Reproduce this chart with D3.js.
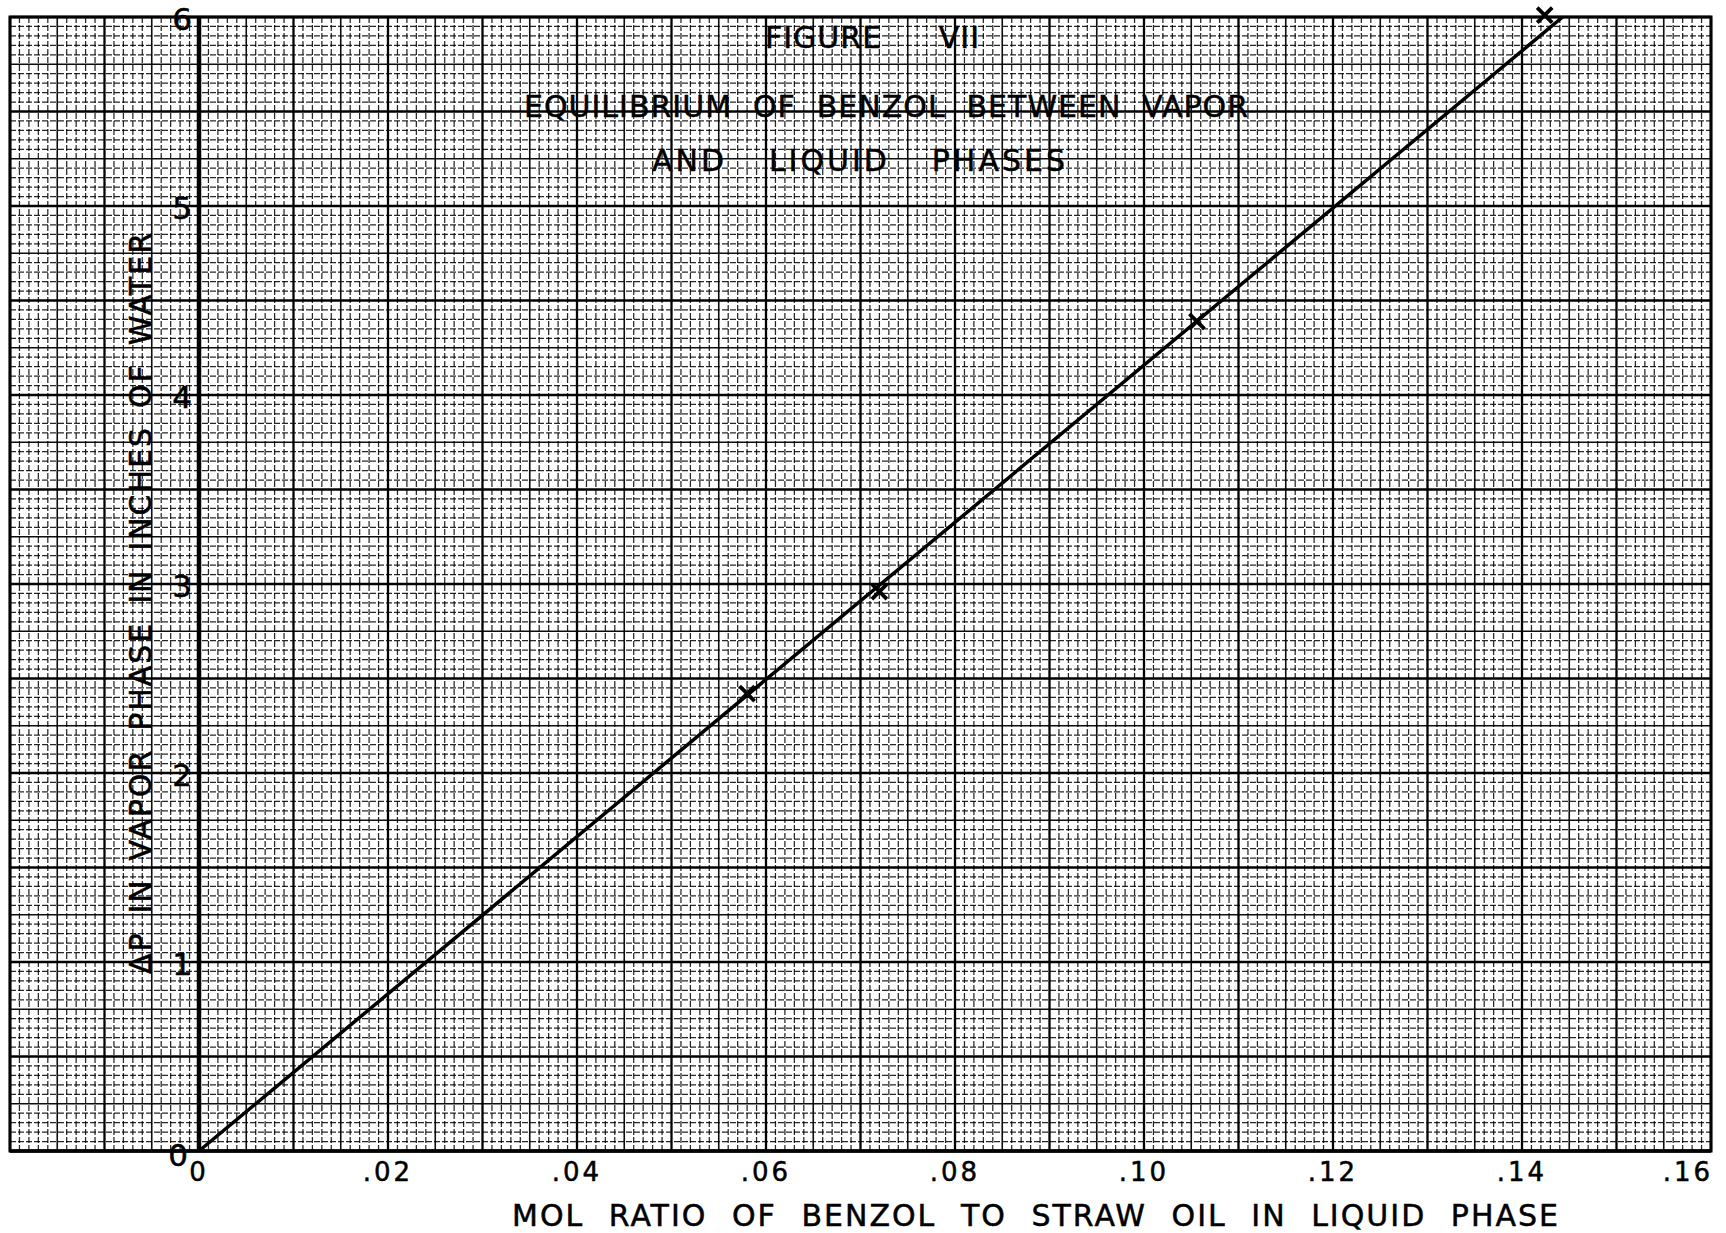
<!DOCTYPE html>
<html><head><meta charset="utf-8">
<script src="https://cdn.jsdelivr.net/npm/d3@7"></script>
<style>body{margin:0;background:#fff}svg{display:block}text{font-family:"DejaVu Sans",sans-serif;fill:#000;stroke:#000;stroke-width:0.5px}</style>
</head><body><svg id="c" width="1726" height="1233"></svg>
<script>
// ---- data ----
const pointX = [0.058, 0.072, 0.1056, 0.1424];
const pointY = [2.42, 2.96, 4.39, 6.01];
const fitX = [0, 0.1443];
const fitY = [0, 6];
const xTickValues = [0, 0.02, 0.04, 0.06, 0.08, 0.10, 0.12, 0.14, 0.16];
const xTickLabels = ["0", ".02", ".04", ".06", ".08", ".10", ".12", ".14", ".16"];
const yTickValues = [0, 1, 2, 3, 4, 5, 6];
const yTickLabels = ["0", "1", "2", "3", "4", "5", "6"];
const titleLines = ["FIGURE VII", "EQUILIBRIUM OF BENZOL BETWEEN VAPOR", "AND LIQUID PHASES"];
const xTitle = "MOL RATIO OF BENZOL TO STRAW OIL IN LIQUID PHASE";
const yTitle = "\u0394P IN VAPOR PHASE IN INCHES OF WATER";

// ---- layout ----
const svg = d3.select("#c");
const L = 10, R = 1711, T = 17, B = 1151;
const x = d3.scaleLinear().domain([-0.02, 0.16]).range([L, R]);
const y = d3.scaleLinear().domain([0, 6]).range([B, T]);

// grid
const gx = d3.range(0, 181).map(i => ({i, v: -0.02 + i * 0.001}));
const gy = d3.range(0, 121).map(i => ({i, v: i * 0.05}));
const style = i => i % 10 === 0 ? {w: 2.3, d: null, o: 1} : (i % 5 === 0 ? {w: 1.6, d: null, o: 0.95} : {w: 1.25, d: "6,2", o: 0.85});
const grid = svg.append("g");
grid.selectAll("line.v").data(gx).join("line")
  .attr("x1", d => x(d.v)).attr("x2", d => x(d.v)).attr("y1", T).attr("y2", B)
  .attr("stroke", "#000").attr("stroke-width", d => style(d.i).w)
  .attr("stroke-dasharray", d => style(d.i).d).attr("stroke-opacity", d => style(d.i).o);
grid.selectAll("line.h").data(gy).join("line")
  .attr("y1", d => y(d.v)).attr("y2", d => y(d.v)).attr("x1", L).attr("x2", R)
  .attr("stroke", "#000").attr("stroke-width", d => style(d.i).w)
  .attr("stroke-dasharray", d => style(d.i).d).attr("stroke-opacity", d => style(d.i).o);

// frame
svg.append("rect").attr("x", L).attr("y", T).attr("width", R - L).attr("height", B - T)
  .attr("fill", "none").attr("stroke", "#000").attr("stroke-width", 3);
// axes
svg.append("line").attr("x1", x(0)).attr("x2", x(0)).attr("y1", y(6)).attr("y2", y(0))
  .attr("stroke", "#000").attr("stroke-width", 4.5);
svg.append("line").attr("x1", x(-0.02)).attr("x2", x(0.16)).attr("y1", y(0)).attr("y2", y(0))
  .attr("stroke", "#000").attr("stroke-width", 3.5);

// helper: fit text to a target width by stretching word gaps only
function fitWords(sel, target) {
  const node = sel.node();
  const len = node.getComputedTextLength();
  const gaps = (sel.text().match(/ /g) || []).length;
  if (gaps > 0) sel.attr("word-spacing", Math.max(0, (target - len) / gaps));
}

// titles
const titleY = [37, 106, 160];
const titleX = [[765, 980], [524, 1249], [652, 1068]];
const titleLS = [1, 1, 3];
titleLines.forEach((t, k) => {
  const tx = svg.append("text").attr("x", titleX[k][0]).attr("y", titleY[k])
    .attr("dominant-baseline", "central").attr("font-size", 30).attr("letter-spacing", titleLS[k]).text(t);
  fitWords(tx, titleX[k][1] - titleX[k][0]);
});

// fit line
const line = d3.line().x(d => x(d[0])).y(d => y(d[1]));
svg.append("path").datum(fitX.map((v, i) => [v, fitY[i]])).attr("d", line)
  .attr("fill", "none").attr("stroke", "#000").attr("stroke-width", 3.5);

// markers
const s = 7.5;
const mk = svg.append("g").selectAll("g").data(pointX.map((v, i) => [v, pointY[i]])).join("g")
  .attr("transform", d => `translate(${x(d[0])},${y(d[1])})`);
mk.append("line").attr("x1", -s).attr("y1", -s).attr("x2", s).attr("y2", s).attr("stroke", "#000").attr("stroke-width", 3.8);
mk.append("line").attr("x1", -s).attr("y1", s).attr("x2", s).attr("y2", -s).attr("stroke", "#000").attr("stroke-width", 3.8);

// x tick labels
svg.append("g").selectAll("text").data(xTickValues).join("text")
  .attr("x", (d, i) => i === xTickValues.length - 1 ? x(d) + 2 : x(d))
  .attr("y", 1172).attr("dominant-baseline", "central")
  .attr("text-anchor", (d, i) => i === xTickValues.length - 1 ? "end" : "middle")
  .attr("font-size", 26).attr("letter-spacing", 3)
  .text((d, i) => xTickLabels[i]);

// y tick labels
svg.append("g").selectAll("text").data(yTickValues).join("text")
  .attr("x", (d, i) => i === 0 ? 188 : 192)
  .attr("y", d => d === 0 ? y(d) + 4 : y(d) + 2).attr("dominant-baseline", "central")
  .attr("text-anchor", "end").attr("font-size", 31)
  .text((d, i) => yTickLabels[i]);

// axis titles
const xt = svg.append("text").attr("x", 512).attr("y", 1215).attr("dominant-baseline", "central")
  .attr("font-size", 30).attr("letter-spacing", 2).text(xTitle);
fitWords(xt, 1048);
const yt = svg.append("text").attr("transform", "translate(140,974) rotate(-90)")
  .attr("dominant-baseline", "central").attr("font-size", 30).attr("letter-spacing", 2).text(yTitle);
fitWords(yt, 743);
</script></body></html>
